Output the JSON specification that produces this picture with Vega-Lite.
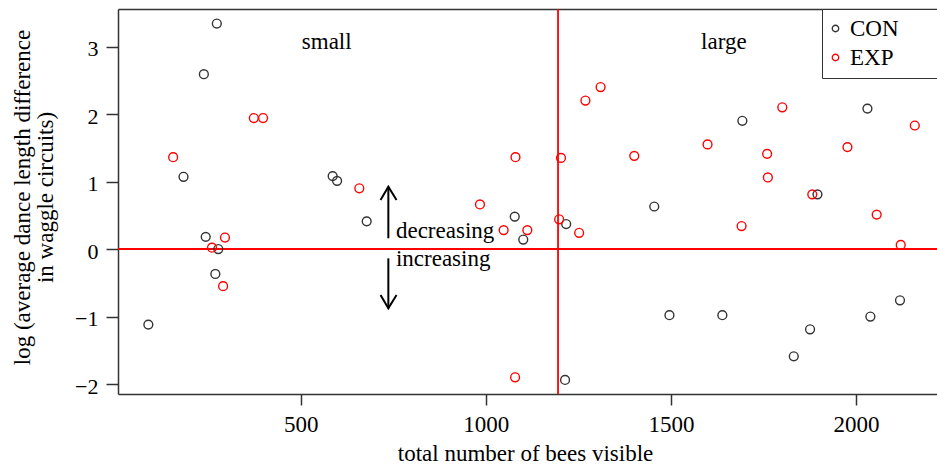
{
  "$schema": "https://vega.github.io/schema/vega-lite/v6.json",
  "width": 819,
  "height": 385,
  "autosize": {"type": "none"},
  "padding": {"left": 118, "top": 9, "right": 0, "bottom": 74},
  "background": "white",
  "config": {
    "view": {"stroke": null},
    "font": "Liberation Serif",
    "axis": {"grid": false, "labelFont": "Liberation Serif", "titleFont": "Liberation Serif", "labelColor": "#000", "titleColor": "#000", "domainColor": "#333", "tickColor": "#333", "domainWidth": 1.5, "tickWidth": 1.5, "titleFontWeight": "normal"}
  },
  "datasets": {
    "points": [
      {"x": 273, "y": 3.34, "group": "CON"},
      {"x": 238, "y": 2.59, "group": "CON"},
      {"x": 183, "y": 1.07, "group": "CON"},
      {"x": 586, "y": 1.08, "group": "CON"},
      {"x": 598, "y": 1.01, "group": "CON"},
      {"x": 678, "y": 0.41, "group": "CON"},
      {"x": 1078, "y": 0.48, "group": "CON"},
      {"x": 243, "y": 0.18, "group": "CON"},
      {"x": 277, "y": 0.0, "group": "CON"},
      {"x": 269, "y": -0.37, "group": "CON"},
      {"x": 88, "y": -1.12, "group": "CON"},
      {"x": 1101, "y": 0.14, "group": "CON"},
      {"x": 1217, "y": 0.37, "group": "CON"},
      {"x": 1214, "y": -1.94, "group": "CON"},
      {"x": 1455, "y": 0.63, "group": "CON"},
      {"x": 1693, "y": 1.90, "group": "CON"},
      {"x": 1896, "y": 0.81, "group": "CON"},
      {"x": 2031, "y": 2.08, "group": "CON"},
      {"x": 1496, "y": -0.98, "group": "CON"},
      {"x": 1639, "y": -0.98, "group": "CON"},
      {"x": 2039, "y": -1.00, "group": "CON"},
      {"x": 2119, "y": -0.76, "group": "CON"},
      {"x": 1876, "y": -1.19, "group": "CON"},
      {"x": 1832, "y": -1.59, "group": "CON"},
      {"x": 155, "y": 1.36, "group": "EXP"},
      {"x": 373, "y": 1.94, "group": "EXP"},
      {"x": 398, "y": 1.94, "group": "EXP"},
      {"x": 658, "y": 0.90, "group": "EXP"},
      {"x": 984, "y": 0.66, "group": "EXP"},
      {"x": 1048, "y": 0.28, "group": "EXP"},
      {"x": 1080, "y": 1.36, "group": "EXP"},
      {"x": 295, "y": 0.17, "group": "EXP"},
      {"x": 260, "y": 0.02, "group": "EXP"},
      {"x": 290, "y": -0.55, "group": "EXP"},
      {"x": 1079, "y": -1.90, "group": "EXP"},
      {"x": 1203, "y": 1.35, "group": "EXP"},
      {"x": 1269, "y": 2.20, "group": "EXP"},
      {"x": 1310, "y": 2.40, "group": "EXP"},
      {"x": 1401, "y": 1.38, "group": "EXP"},
      {"x": 1599, "y": 1.55, "group": "EXP"},
      {"x": 1801, "y": 2.10, "group": "EXP"},
      {"x": 1760, "y": 1.41, "group": "EXP"},
      {"x": 1762, "y": 1.06, "group": "EXP"},
      {"x": 1882, "y": 0.81, "group": "EXP"},
      {"x": 1977, "y": 1.51, "group": "EXP"},
      {"x": 2159, "y": 1.83, "group": "EXP"},
      {"x": 2056, "y": 0.51, "group": "EXP"},
      {"x": 1691, "y": 0.34, "group": "EXP"},
      {"x": 1198, "y": 0.44, "group": "EXP"},
      {"x": 1252, "y": 0.24, "group": "EXP"},
      {"x": 1112, "y": 0.28, "group": "EXP"},
      {"x": 2121, "y": 0.06, "group": "EXP"}
    ],
    "vline": [{"x": 1195}],
    "hline": [{"y": 0}],
    "regions": [{"x": 570, "y": 2.96, "label": "small"}, {"x": 1643, "y": 2.96, "label": "large"}],
    "dirs": [{"x": 757, "y": 0.159, "label": "decreasing"}, {"x": 757, "y": -0.247, "label": "increasing"}],
    "shafts": [{"x": 736.5, "y": 0.159, "y2": 0.923}, {"x": 736.5, "y": -0.138, "y2": -0.879}],
    "heads": [
      {"arrow": "up", "o": 1, "x": 715.4, "y": 0.726},
      {"arrow": "up", "o": 2, "x": 736.5, "y": 0.923},
      {"arrow": "up", "o": 3, "x": 758.6, "y": 0.726},
      {"arrow": "down", "o": 1, "x": 715.4, "y": -0.681},
      {"arrow": "down", "o": 2, "x": 736.5, "y": -0.879},
      {"arrow": "down", "o": 3, "x": 758.6, "y": -0.681}
    ]
  },
  "layer": [
    {
      "data": {"name": "hline"},
      "mark": {"type": "rule", "color": "#ff0000", "strokeWidth": 1.8},
      "encoding": {"y": {"field": "y", "type": "quantitative"}}
    },
    {
      "data": {"name": "vline"},
      "mark": {"type": "rule", "color": "#ff0000", "strokeWidth": 1.8},
      "encoding": {"x": {"field": "x", "type": "quantitative", "axis": {"orient": "top", "labels": false, "ticks": false, "title": null, "domain": true}}}
    },
    {
      "data": {"name": "points"},
      "mark": {"type": "point", "shape": "circle", "filled": false, "size": 78, "strokeWidth": 1.4, "opacity": 1},
      "encoding": {
        "x": {"field": "x", "type": "quantitative", "scale": {"domain": [6, 2219], "nice": false, "zero": false},
          "axis": {"orient": "bottom", "values": [500, 1000, 1500, 2000], "format": "d", "tickSize": 11, "labelPadding": 26, "labelBaseline": "alphabetic", "labelFontSize": 23, "title": "total number of bees visible", "titleFontSize": 23, "titleX": 407, "titleY": 66, "titleBaseline": "alphabetic", "titleAlign": "center", "labelFlush": false}},
        "y": {"field": "y", "type": "quantitative", "scale": {"domain": [-2.148, 3.556], "nice": false, "zero": false},
          "axis": {"values": [-2, -1, 0, 1, 2, 3], "format": "d", "tickSize": 12, "labelPadding": 8, "labelFontSize": 22, "labelBaseline": "alphabetic", "labelOffset": 9, "labelFlush": false, "title": ["log (average dance length difference", "in waggle circuits)"], "titleFontSize": 23, "titleAngle": 270, "titleX": -89, "titleY": 188, "titleAlign": "center", "titleBaseline": "alphabetic", "titleLineHeight": 23.5}},
        "color": {"field": "group", "type": "nominal", "scale": {"domain": ["CON", "EXP"], "range": ["#333333", "#ff0000"]},
          "legend": {"orient": "none", "legendX": 704, "legendY": 0, "title": "\u00a0", "titleOrient": "right", "titlePadding": 60, "titleFontSize": 10, "strokeColor": "#333", "fillColor": "white", "padding": 8, "labelFont": "Liberation Serif", "labelFontSize": 23, "labelColor": "#000", "symbolSize": 42, "symbolStrokeWidth": 1.3, "symbolType": "circle", "symbolOffset": -6, "labelOffset": 3, "rowPadding": 5}}
      }
    },
    {
      "data": {"name": "regions"},
      "mark": {"type": "text", "font": "Liberation Serif", "fontSize": 23, "align": "center", "baseline": "alphabetic", "color": "#000"},
      "encoding": {
        "x": {"field": "x", "type": "quantitative", "axis": null},
        "y": {"field": "y", "type": "quantitative"},
        "text": {"field": "label"}
      }
    },
    {
      "data": {"name": "dirs"},
      "mark": {"type": "text", "font": "Liberation Serif", "fontSize": 23, "align": "left", "baseline": "alphabetic", "color": "#000"},
      "encoding": {
        "x": {"field": "x", "type": "quantitative", "axis": null},
        "y": {"field": "y", "type": "quantitative"},
        "text": {"field": "label"}
      }
    },
    {
      "data": {"name": "shafts"},
      "mark": {"type": "rule", "color": "#000", "strokeWidth": 2},
      "encoding": {
        "x": {"field": "x", "type": "quantitative", "axis": null},
        "y": {"field": "y", "type": "quantitative"},
        "y2": {"field": "y2"}
      }
    },
    {
      "data": {"name": "heads"},
      "mark": {"type": "line", "color": "#000", "strokeWidth": 2, "strokeJoin": "miter"},
      "encoding": {
        "x": {"field": "x", "type": "quantitative", "axis": null},
        "y": {"field": "y", "type": "quantitative"},
        "detail": {"field": "arrow"},
        "order": {"field": "o", "type": "quantitative"}
      }
    }
  ],
  "resolve": {"axis": {"x": "independent"}}
}
